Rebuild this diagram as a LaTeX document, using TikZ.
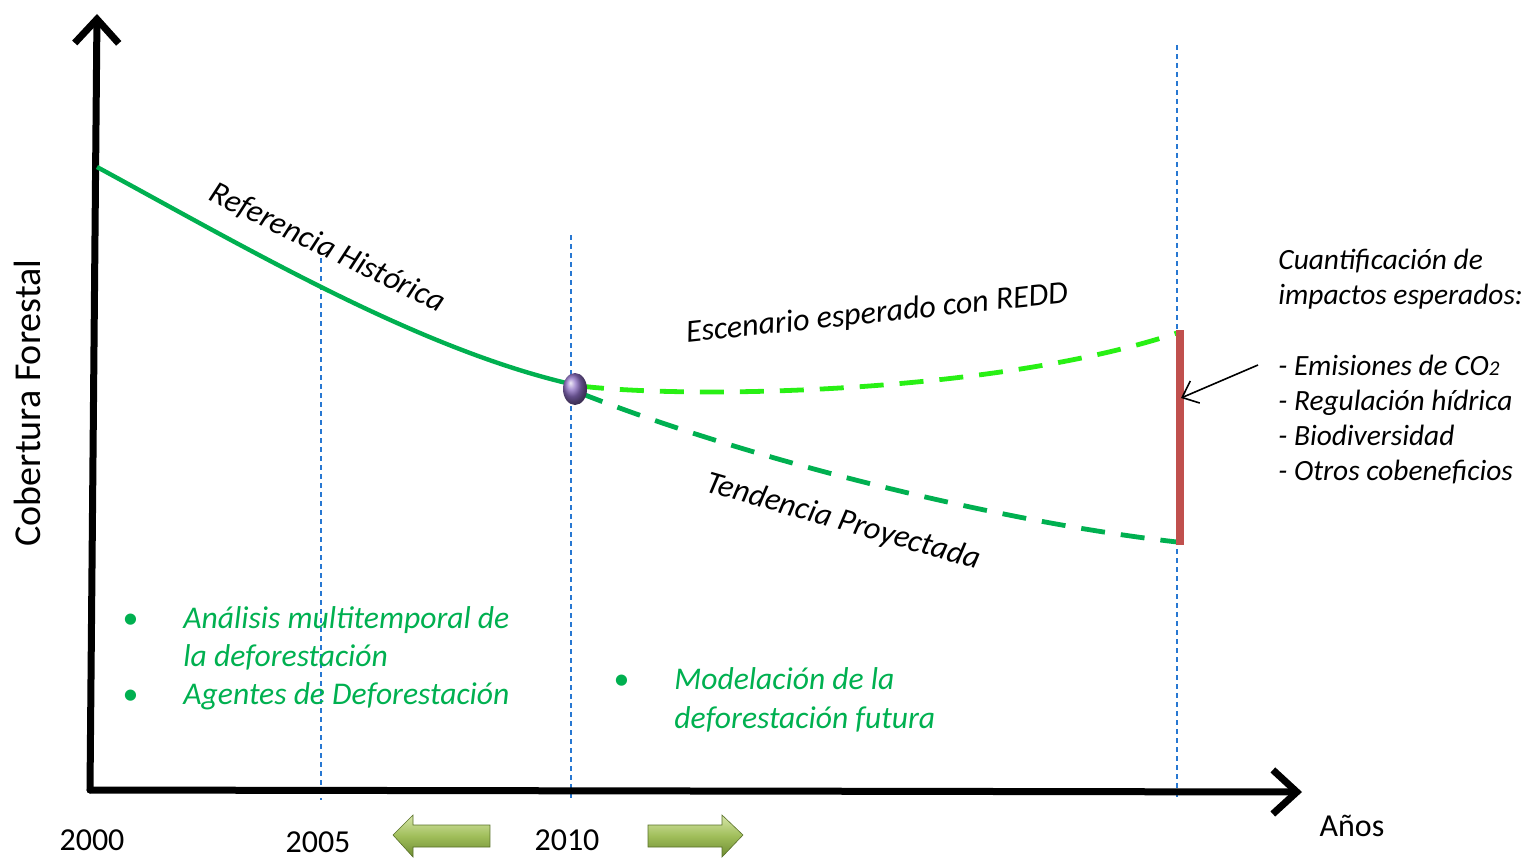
\documentclass[tikz,border=0pt]{standalone}
\usepackage{fontspec}
\setmainfont{Carlito}
\usetikzlibrary{arrows.meta,shapes.geometric}
\definecolor{hist}{RGB}{0,176,80}
\definecolor{redd}{RGB}{40,240,20}
\definecolor{barred}{RGB}{192,80,77}
\definecolor{gridblue}{RGB}{40,120,210}
\definecolor{purp}{RGB}{140,110,195}
\definecolor{agtop}{RGB}{215,230,170}
\definecolor{agmid}{RGB}{160,190,90}
\definecolor{agbot}{RGB}{110,140,50}
\tikzset{
  axis/.style={line width=3.5pt, line cap=round, -{Straight Barb[length=12pt,width=22pt,line width=3.5pt]}},
  gridline/.style={gridblue, line width=0.6pt, dash pattern=on 2.5pt off 2pt},
  curvehist/.style={hist, line width=2.2pt},
  curvedash/.style={line width=2.4pt, dash pattern=on 12pt off 8pt},
  lab/.style={font=\fontsize{16}{19}\selectfont\itshape, inner sep=0pt},
  year/.style={font=\fontsize{16}{19}\selectfont, inner sep=0pt},
  gtext/.style={font=\fontsize{15.8}{19}\selectfont\itshape, text=hist, inner sep=0pt, anchor=base west},
  rtext/.style={font=\fontsize{14.7}{17.5}\selectfont\itshape, inner sep=0pt, anchor=base west},
  bigarrow/.style={draw=agbot!80!black, line width=0.3pt, top color=agtop, bottom color=agbot, middle color=agmid, shading angle=0},
}
\begin{document}
\begin{tikzpicture}[x=0.5pt,y=-0.5pt]
\useasboundingbox (0,0) rectangle (1540,861);
% grid lines
\coordinate (g1t) at (321,258); \coordinate (g1b) at (321,800);
\coordinate (g2t) at (571,235); \coordinate (g2b) at (571,800);
\coordinate (g3t) at (1177,45); \coordinate (g3b) at (1177,800);
\draw[gridline] (g1t) -- (g1b);
\draw[gridline] (g2t) -- (g2b);
\draw[gridline] (g3t) -- (g3b);
% axes
\coordinate (o) at (90,790);
\coordinate (ytop) at (97,14);
\coordinate (xend) at (1302,792);
\draw[axis] (o) -- (ytop);
\draw[axis] (o) -- (xend);
% curves
\coordinate (h0) at (97,167);
\coordinate (h1) at (575,385);
\coordinate (r1) at (1177,333);
\coordinate (t1) at (1177,542);
\draw[curvehist] (h0) .. controls (250,250) and (420,350) .. (h1);
\draw[curvedash, redd] (580,386) .. controls (700,400) and (1000,392) .. (r1);
\draw[curvedash, hist] (580,393) .. controls (750,460) and (1000,522) .. (t1);
% red bar
\coordinate (bt) at (1180,330); \coordinate (bb) at (1180,545);
\draw[barred, line width=4pt] (bt) -- (bb);
\coordinate (pa) at (1258,365); \coordinate (pb) at (1181,398);
\draw[line width=0.8pt, -{Straight Barb[length=7pt,width=12pt]}] (pa) -- (pb);
% dot
\node[ellipse, minimum width=12pt, minimum height=16pt, inner sep=0pt, ball color=purp] (dot) at (575,389) {};
% curve labels
\node[lab, rotate=-26] (lhist) at (327,248) {Referencia Histórica};
\node[lab, rotate=6] (lredd) at (877,314) {Escenario esperado con REDD};
\node[lab, rotate=-16] (ltend) at (843,522) {Tendencia Proyectada};
% y label
\node[font=\fontsize{19}{22}\selectfont, rotate=90, inner sep=0pt] (ylab) at (27,403) {Cobertura Forestal};
% years
\node[year] (y2000) at (92,840) {2000};
\node[year] (y2005) at (318,842) {2005};
\node[year] (y2010) at (567,840) {2010};
\node[year] (anos) at (1352,826) {Años};
% bottom arrows
\draw[bigarrow] (393,835) -- (413,815) -- (413,825) -- (490,825) -- (490,847) -- (413,847) -- (413,857) -- cycle;
\draw[bigarrow] (743,835) -- (722,815) -- (722,825) -- (648,825) -- (648,847) -- (722,847) -- (722,857) -- cycle;
% right text
\node[rtext] (q1) at (1278,269) {Cuantificación de};
\node[rtext] (q2) at (1278,304) {impactos esperados:};
\node[rtext] (q3) at (1278,375) {- Emisiones de CO{\fontsize{10.5}{12}\selectfont 2}};
\node[rtext] (q4) at (1278,410) {- Regulación hídrica};
\node[rtext] (q5) at (1278,445) {- Biodiversidad};
\node[rtext] (q6) at (1278,480) {- Otros cobeneficios};
% green texts
\node[gtext] (b1) at (122,628) {\textbullet};
\node[gtext] (a1) at (183,628) {Análisis multitemporal de};
\node[gtext] (a2) at (183,666) {la deforestación};
\node[gtext] (b2) at (122,704) {\textbullet};
\node[gtext] (a3) at (183,704) {Agentes de Deforestación};
\node[gtext] (b3) at (613,689) {\textbullet};
\node[gtext] (m1) at (674,689) {Modelación de la};
\node[gtext] (m2) at (674,728) {deforestación futura};
\end{tikzpicture}
\end{document}
